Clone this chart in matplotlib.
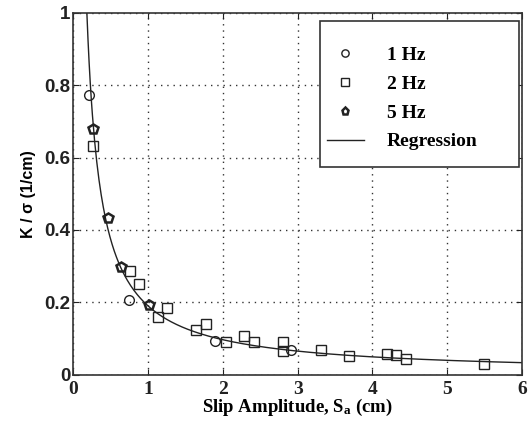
import numpy as np
import matplotlib
matplotlib.use("Agg")
import matplotlib.pyplot as plt
from matplotlib.patches import Rectangle

plt.rcParams['font.family'] = ['Liberation Serif', 'DejaVu Serif']
plt.rcParams['font.weight'] = 'bold'
plt.rcParams['mathtext.fontset'] = 'custom'
plt.rcParams['mathtext.rm'] = 'Liberation Serif:bold'
plt.rcParams['mathtext.it'] = 'Liberation Serif:bold'
plt.rcParams['mathtext.bf'] = 'Liberation Serif:bold'

# Data (Slip amplitude cm, K/sigma 1/cm)
x_1hz = [0.21, 0.75, 1.90, 2.91]
y_1hz = [0.772, 0.207, 0.094, 0.069]

x_2hz = [0.27, 0.76, 0.88, 1.14, 1.26, 1.64, 1.78, 2.04, 2.29, 2.42, 2.80, 2.80,
         3.31, 3.69, 4.20, 4.32, 4.45, 5.49]
y_2hz = [0.633, 0.286, 0.251, 0.160, 0.184, 0.122, 0.140, 0.089, 0.106, 0.089,
         0.089, 0.064, 0.069, 0.050, 0.057, 0.054, 0.044, 0.030]

x_5hz = [0.27, 0.46, 0.64, 1.01]
y_5hz = [0.680, 0.432, 0.297, 0.193]

# Regression: K/sigma = a * Sa^(-b)
reg_a = 0.19
reg_b = 0.98

x_ticks = [0, 1, 2, 3, 4, 5, 6]
y_ticks = [0, 0.2, 0.4, 0.6, 0.8, 1]
y_ticklabels = ['0', '0.2', '0.4', '0.6', '0.8', '1']

fig = plt.figure(figsize=(5.3, 4.3), dpi=100)
ax = fig.add_axes([0.138, 0.129, 0.847, 0.841])

xs = np.linspace(0.17, 6, 400)
ax.plot(xs, reg_a * xs ** (-reg_b), color='#222222', lw=1.0, label='Regression')

ms = 7
ax.plot(x_1hz, y_1hz, ls='none', marker='o', mfc='none', mec='#222222', mew=1.0, ms=ms, label='1 Hz')
ax.plot(x_2hz, y_2hz, ls='none', marker='s', mfc='none', mec='#222222', mew=1.0, ms=ms, label='2 Hz')
ax.plot(x_5hz, y_5hz, ls='none', marker='p', mfc='none', mec='#222222', mew=1.8, ms=ms, label='5 Hz')

ax.set_xlim(0, 6)
ax.set_ylim(0, 1)
ax.set_xticks(x_ticks)
ax.set_yticks(y_ticks)
ax.set_yticklabels(y_ticklabels, family=['Liberation Sans', 'DejaVu Sans'], fontsize=13.5, fontweight='bold')
ax.tick_params(axis='x', labelsize=14, pad=5)
ax.tick_params(axis='y', pad=2)
ax.tick_params(direction='in', top=True, right=True, length=4, colors='#222222')
ax.grid(True, linestyle=(0, (1, 3.5)), color='#333333', lw=1.0)
for s in ax.spines.values():
    s.set_color('#333333')
    s.set_linewidth(1.2)

ax.set_xlabel(r'Slip Amplitude, S$_{\mathbf{a}}$ (cm)', fontsize=13.5, fontweight='bold', labelpad=-1)
ax.set_ylabel('K / σ (1/cm)', fontsize=11.5, fontweight='bold', labelpad=6,
              family=['Liberation Sans', 'DejaVu Sans'])

# legend box
ax.add_patch(Rectangle((0.549, 0.575), 0.444, 0.402, transform=ax.transAxes,
                       facecolor='white', edgecolor='#333333', lw=1.2, zorder=4))

handles, labels = ax.get_legend_handles_labels()
order = [1, 2, 3, 0]
leg = ax.legend([handles[i] for i in order], [labels[i] for i in order],
                loc='upper left', bbox_to_anchor=(0.565, 0.908), fontsize=14,
                frameon=False, borderpad=0, borderaxespad=0,
                labelspacing=0.58, handlelength=1.9, handletextpad=1.2,
                markerscale=0.75)
leg.set_zorder(5)

fig.savefig('out.png', dpi=100)
